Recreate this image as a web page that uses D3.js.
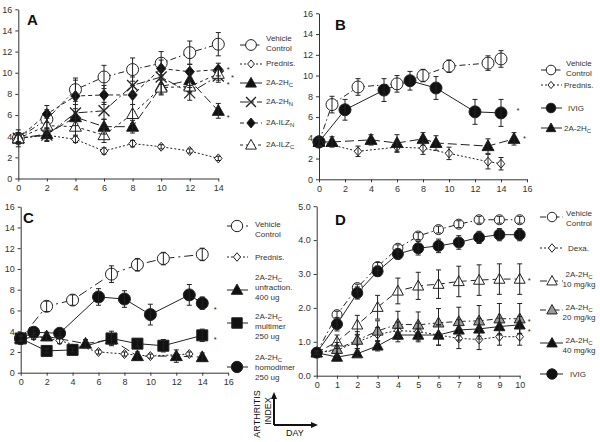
<!DOCTYPE html>
<html><head><meta charset="utf-8">
<script src="https://cdn.jsdelivr.net/npm/d3@7"></script>
<style>
body{margin:0;background:#fff}
svg{display:block;font-family:"Liberation Sans",Arial,sans-serif}
</style>
</head><body><svg id="c" width="600" height="442"></svg>
<script>
// ---------------- DATA ----------------
// Panel A
const daysA = [0,2,4,6,8,10,12,14];
const aVehicle = [3.8,5.6,8.4,9.6,10.3,10.9,11.9,12.7];
const aVehicleErr = [0.8,0.9,1.1,1.1,1.1,1.1,1.1,1.1];
const aPred = [3.8,4.1,3.7,2.6,3.3,3.0,2.6,1.9];
const aPredErr = [0.3,0.3,0.3,0.3,0.3,0.2,0.2,0.2];
const aHC = [3.8,4.2,5.8,4.9,4.9,8.7,9.3,6.4];
const aHCErr = [0.4,0.6,0.8,0.7,0.6,0.7,0.7,0.7];
const aHN = [3.8,4.1,6.2,6.4,8.8,9.6,8.1,9.7];
const aHNErr = [0.5,0.6,0.8,0.8,0.8,0.7,0.7,0.6];
const aILZN = [3.8,6.1,7.8,7.9,7.9,10.4,10.1,10.3];
const aILZNErr = [0.5,0.8,1.5,0.9,0.9,0.8,0.7,0.6];
const aILZC = [3.8,5.0,4.9,4.1,6.1,8.6,8.7,9.9];
const aILZCErr = [0.5,0.7,0.8,0.7,0.9,0.7,0.6,0.6];
const starsADays = [14.7,15.0,14.7,14.7];
const starsAVals = [10.46,9.75,9.05,6.0];

// Panel B
const bVehDays = [0,1,3,6,8,10,13,14];
const bVeh = [3.6,7.2,8.9,9.2,10.0,10.9,11.2,11.6];
const bVehErr = [0.4,0.8,0.8,0.8,0.6,0.6,0.7,0.8];
const bPredDays = [0,3,6,8,10,13,14];
const bPred = [3.6,2.7,3.1,3.0,2.5,1.7,1.5];
const bPredErr = [0.4,0.5,0.5,0.6,0.6,0.7,0.6];
const bIvigDays = [0,2,5,7,9,12,14];
const bIvig = [3.6,6.7,8.6,9.5,8.8,6.5,6.4];
const bIvigErr = [0.4,1.0,1.1,0.9,1.1,1.2,1.3];
const bHCDays = [0,1,4,6,8,9,13,15];
const bHC = [3.6,3.6,3.8,3.5,3.9,3.5,3.2,3.9];
const bHCErr = [0.3,0.5,0.5,0.8,0.6,0.7,0.7,0.6];
const starsBDays = [15.3,15.8];
const starsBVals = [6.87,4.17];

// Panel C
const cVehDays = [0,2,4,7,9,11,14];
const cVeh = [3.3,6.4,7.0,9.5,10.4,11.0,11.4];
const cVehErr = [0.3,0.5,0.5,0.8,0.6,0.6,0.6];
const cPredDays = [0,1,3,6,8,10,13];
const cPred = [3.3,3.5,3.1,2.0,1.8,1.6,1.8];
const cPredErr = [0.2,0.3,0.3,0.2,0.2,0.2,0.2];
const cUnfDays = [0,2,5,7,9,12,14];
const cUnf = [3.3,3.5,2.8,3.2,1.6,1.6,1.5];
const cUnfErr = [0.3,0.4,0.4,0.5,0.4,0.6,0.4];
const cMultDays = [0,2,4,7,9,11,14];
const cMult = [3.3,2.1,2.2,3.3,2.8,2.6,3.6];
const cMultErr = [0.3,0.2,0.2,0.7,0.3,0.6,0.6];
const cHomoDays = [0,1,3,6,8,10,13,14];
const cHomo = [3.3,3.9,3.8,7.3,7.1,5.6,7.5,6.7];
const cHomoErr = [0.3,0.3,0.3,0.8,0.8,1.0,1.0,0.6];
const starsCDays = [15,15];
const starsCVals = [6.33,3.35];

// Panel D
const daysD = [0,1,2,3,4,5,6,7,8,9,10];
const dVeh = [0.68,1.8,2.6,3.22,3.76,4.12,4.31,4.47,4.6,4.6,4.6];
const dVehErr = [0.05,0.1,0.1,0.12,0.1,0.1,0.1,0.1,0.1,0.1,0.1];
const dDexa = [0.68,0.75,1.0,1.22,1.33,1.3,1.2,1.1,1.07,1.15,1.15];
const dDexaErr = [0.05,0.15,0.2,0.2,0.25,0.25,0.3,0.3,0.3,0.25,0.25];
const d10 = [0.68,1.0,1.5,2.02,2.5,2.65,2.7,2.78,2.82,2.85,2.85];
const d10Err = [0.05,0.2,0.28,0.35,0.38,0.4,0.42,0.45,0.45,0.45,0.45];
const d20 = [0.68,0.78,1.05,1.32,1.52,1.5,1.56,1.6,1.62,1.68,1.68];
const d20Err = [0.05,0.2,0.25,0.3,0.38,0.38,0.42,0.42,0.45,0.45,0.45];
const d40 = [0.68,0.55,0.65,0.88,1.2,1.2,1.2,1.35,1.38,1.45,1.5];
const d40Err = [0.05,0.05,0.08,0.15,0.2,0.2,0.3,0.3,0.3,0.25,0.25];
const dIvig = [0.68,1.52,2.44,3.08,3.59,3.76,3.83,3.93,4.08,4.16,4.16];
const dIvigErr = [0.05,0.2,0.18,0.15,0.15,0.2,0.2,0.2,0.18,0.18,0.18];
const starsDDays = [10.47,10.47,10.47];
const starsDVals = [2.87,1.66,1.35];

// tick labels
const ticks0to16 = [0,2,4,6,8,10,12,14,16];
const ticks0to14 = [0,2,4,6,8,10,12,14];
const ticks0to10 = [0,1,2,3,4,5,6,7,8,9,10];
const ticks0to5 = [0,1,2,3,4,5];

// ---------------- DRAWING ----------------
const svg = d3.select('#c');
const INK = '#222';

function markerPath(m, k) {
  const s = m.size * (k || 1);
  switch (m.type) {
    case 'circle': return d3.symbol(d3.symbolCircle, Math.PI * (s/2) * (s/2))();
    case 'triangle': { const w = s/2, h = s*0.9; return `M0,${-h*0.58}L${w},${h*0.42}L${-w},${h*0.42}Z`; }
    case 'diamond': { const w = s*0.42, h = s/2; return `M0,${-h}L${w},0L0,${h}L${-w},0Z`; }
    case 'square': { const h = s/2; return `M${-h},${-h}H${h}V${h}H${-h}Z`; }
    case 'x': { const h = s/2; return `M${-h},${-h}L${h},${h}M${-h},${h}L${h},${-h}`; }
  }
}
function drawMarker(g, m, px, py, k) {
  g.append('path').attr('d', markerPath(m, k)).attr('transform', `translate(${px},${py})`)
    .attr('fill', m.type === 'x' ? 'none' : m.fill)
    .attr('stroke', INK).attr('stroke-width', m.type === 'x' ? 1.3 : 1);
}
function addLabel(t, str) {
  const parts = str.split('_');
  t.append('tspan').text(parts[0]);
  if (parts.length > 1) {
    t.append('tspan').attr('font-size', '6px').attr('dy', 2).text(parts[1]);
  }
}

function drawPanel(p) {
  const x = d3.scaleLinear().domain(p.xDomain).range(p.xRange);
  const y = d3.scaleLinear().domain(p.yDomain).range(p.yRange);
  const g = svg.append('g');

  const ax = g.append('g').attr('transform', `translate(0,${p.yRange[0]})`)
    .call(d3.axisBottom(x).tickValues(p.xTicks).tickSize(3).tickSizeOuter(0).tickPadding(3));
  const ay = g.append('g').attr('transform', `translate(${p.xRange[0]},0)`)
    .call(d3.axisLeft(y).tickValues(p.yTicks).tickSize(3).tickSizeOuter(0).tickPadding(3));
  [ax, ay].forEach(a => {
    a.selectAll('path,line').attr('stroke', '#333');
    a.selectAll('text').attr('font-size', '9px').attr('fill', '#333').attr('font-family', '"Liberation Sans",Arial,sans-serif');
  });

  const line = d3.line().x(d => x(d[0])).y(d => y(d[1]));
  p.series.forEach(s => {
    const pts = s.days.map((d, i) => [d, s.vals[i]]);
    g.append('path').datum(pts).attr('d', line).attr('fill', 'none')
      .attr('stroke', INK).attr('stroke-width', 1).attr('stroke-dasharray', s.dash || null);
  });
  p.series.forEach(s => {
    s.days.forEach((d, i) => drawMarker(g, s.marker, x(d), y(s.vals[i])));
  });
  p.series.forEach(s => {
    s.days.forEach((d, i) => {
      const e = s.errs[i], v = s.vals[i], cx = x(d);
      const y1 = y(v + e), y2 = y(v - e);
      g.append('path').attr('d', `M${cx},${y1}V${y2}M${cx-2.5},${y1}H${cx+2.5}M${cx-2.5},${y2}H${cx+2.5}`)
        .attr('stroke', INK).attr('stroke-width', 1).attr('fill', 'none');
    });
  });
  p.stars.days.forEach((d, i) => {
    g.append('text').attr('x', x(d)).attr('y', y(p.stars.vals[i]) + 4.5)
      .attr('font-size', '7.5px').attr('fill', INK).attr('text-anchor', 'middle').text('*');
  });

  g.append('text').attr('x', p.letter[1]).attr('y', p.letter[2]).attr('font-size', '15px')
    .attr('font-weight', 'bold').attr('fill', '#111').text(p.letter[0]);

  const L = p.legend;
  L.items.forEach(it => {
    const s = p.series[it.s];
    g.append('line').attr('x1', L.x0).attr('x2', L.x1).attr('y1', it.y).attr('y2', it.y)
      .attr('stroke', INK).attr('stroke-width', 1).attr('stroke-dasharray', s.dash || null);
    drawMarker(g, s.marker, L.mx, it.y, L.k);
    const n = it.lines.length;
    it.lines.forEach((ln, j) => {
      const anchor = (n > 1 && L.center) ? 'middle' : 'start';
      const tx = (n > 1 && L.center) ? L.center : (it.tx || L.tx);
      const t = g.append('text').attr('x', tx).attr('y', it.ty + 3 + (j - (n - 1) / 2) * L.lh)
        .attr('font-size', '8px').attr('fill', '#333').attr('text-anchor', anchor);
      addLabel(t, ln);
    });
  });
}

const open = (type, size) => ({ type, size, fill: '#fff' });
const fill = (type, size) => ({ type, size, fill: '#111' });

// Panel A
drawPanel({
  xDomain: [0, 14], xRange: [18.3, 218.3], yDomain: [0, 16], yRange: [178.5, 9.3],
  xTicks: ticks0to14, yTicks: ticks0to16, letter: ['A', 27, 25],
  series: [
    { days: daysA, vals: aVehicle, errs: aVehicleErr, marker: open('circle', 12), dash: '6,3,1.5,3' },
    { days: daysA, vals: aPred, errs: aPredErr, marker: open('diamond', 9), dash: '2,2' },
    { days: daysA, vals: aHC, errs: aHCErr, marker: fill('triangle', 12), dash: '9,4' },
    { days: daysA, vals: aHN, errs: aHNErr, marker: fill('x', 11), dash: '9,3,2,3' },
    { days: daysA, vals: aILZN, errs: aILZNErr, marker: fill('diamond', 11), dash: '4,3' },
    { days: daysA, vals: aILZC, errs: aILZCErr, marker: open('triangle', 12), dash: '3,3' }
  ],
  stars: { days: starsADays, vals: starsAVals },
  legend: { x0: 240, x1: 262, mx: 251, tx: 266, lh: 10, k: 0.9, items: [
    { s: 0, y: 45, ty: 43, lines: ['Vehicle', 'Control'] },
    { s: 1, y: 64, ty: 63, lines: ['Prednis.'] },
    { s: 2, y: 83, ty: 82, lines: ['2A-2H_C'] },
    { s: 3, y: 102, ty: 101, lines: ['2A-2H_N'] },
    { s: 4, y: 123, ty: 122, lines: ['2A-ILZ_N'] },
    { s: 5, y: 145, ty: 144, lines: ['2A-ILZ_C'] }
  ]}
});

// Panel B
drawPanel({
  xDomain: [0, 16], xRange: [319, 527], yDomain: [0, 16], yRange: [179.3, 13.3],
  xTicks: ticks0to16, yTicks: ticks0to16, letter: ['B', 335, 30],
  series: [
    { days: bVehDays, vals: bVeh, errs: bVehErr, marker: open('circle', 12), dash: '6,3,1.5,3' },
    { days: bPredDays, vals: bPred, errs: bPredErr, marker: open('diamond', 9), dash: '2,2' },
    { days: bIvigDays, vals: bIvig, errs: bIvigErr, marker: fill('circle', 12), dash: null },
    { days: bHCDays, vals: bHC, errs: bHCErr, marker: fill('triangle', 12), dash: '9,4' }
  ],
  stars: { days: starsBDays, vals: starsBVals },
  legend: { x0: 541, x1: 562, mx: 551, tx: 566, lh: 10, k: 0.8, items: [
    { s: 0, y: 70, ty: 68, lines: ['Vehicle', 'Control'] },
    { s: 1, y: 85, ty: 85, lines: ['Prednis.'], tx: 564 },
    { s: 2, y: 108, ty: 108, lines: ['IVIG'], tx: 568 },
    { s: 3, y: 128, ty: 128, lines: ['2A-2H_C'], tx: 564 }
  ]}
});

// Panel C
drawPanel({
  xDomain: [0, 16], xRange: [20.7, 228.2], yDomain: [0, 16], yRange: [372.7, 206.7],
  xTicks: ticks0to16, yTicks: ticks0to16, letter: ['C', 23, 223],
  series: [
    { days: cVehDays, vals: cVeh, errs: cVehErr, marker: open('circle', 12), dash: '9,4,2,4' },
    { days: cPredDays, vals: cPred, errs: cPredErr, marker: open('diamond', 9), dash: '2,2' },
    { days: cUnfDays, vals: cUnf, errs: cUnfErr, marker: fill('triangle', 12), dash: '9,4' },
    { days: cMultDays, vals: cMult, errs: cMultErr, marker: fill('square', 11), dash: null },
    { days: cHomoDays, vals: cHomo, errs: cHomoErr, marker: fill('circle', 12), dash: null }
  ],
  stars: { days: starsCDays, vals: starsCVals },
  legend: { x0: 227, x1: 248, mx: 237, tx: 255, lh: 10.3, k: 0.95, items: [
    { s: 0, y: 226, ty: 229, lines: ['Vehicle', 'Control'] },
    { s: 1, y: 257, ty: 257, lines: ['Prednis.'] },
    { s: 2, y: 290, ty: 287, lines: ['2A-2H_C', 'unfraction.', '400 ug'] },
    { s: 3, y: 323, ty: 326, lines: ['2A-2H_C', 'multimer', '250 ug'] },
    { s: 4, y: 367, ty: 367, lines: ['2A-2H_C', 'homodimer', '250 ug'] }
  ]}
});

// Panel D
drawPanel({
  xDomain: [0, 10], xRange: [316.7, 519.7], yDomain: [0, 5], yRange: [375.7, 206.2],
  xTicks: ticks0to10, yTicks: ticks0to5, letter: ['D', 335, 225],
  series: [
    { days: daysD, vals: dVeh, errs: dVehErr, marker: open('circle', 10), dash: '6,3,1.5,3' },
    { days: daysD, vals: dDexa, errs: dDexaErr, marker: open('diamond', 9), dash: '2,2' },
    { days: daysD, vals: d10, errs: d10Err, marker: open('triangle', 11), dash: '7,4' },
    { days: daysD, vals: d20, errs: d20Err, marker: { type: 'triangle', size: 11, fill: '#9a9a9a' }, dash: '6,3,1.5,3' },
    { days: daysD, vals: d40, errs: d40Err, marker: fill('triangle', 11), dash: null },
    { days: daysD, vals: dIvig, errs: dIvigErr, marker: fill('circle', 11), dash: null }
  ],
  stars: { days: starsDDays, vals: starsDVals },
  legend: { x0: 540, x1: 563, mx: 552, tx: 568, lh: 10.5, k: 0.95, center: 579, items: [
    { s: 0, y: 217, ty: 218, lines: ['Vehicle', 'Control'] },
    { s: 1, y: 248, ty: 248, lines: ['Dexa.'] },
    { s: 2, y: 281, ty: 279, lines: ['2A-2H_C', '10 mg/kg'] },
    { s: 3, y: 310, ty: 312, lines: ['2A-2H_C', '20 mg/kg'] },
    { s: 4, y: 343, ty: 345, lines: ['2A-2H_C', '40 mg/kg'] },
    { s: 5, y: 374, ty: 374, lines: ['IVIG'], tx: 570 }
  ]}
});

// Key: arthritis index vs day
const key = svg.append('g');
key.append('path').attr('d', 'M274,425V398M274,425H312').attr('stroke', '#111').attr('stroke-width', 2).attr('fill', 'none');
key.append('path').attr('d', 'M274,392L271,399L277,399Z').attr('fill', '#111');
key.append('path').attr('d', 'M318,425L311,422L311,428Z').attr('fill', '#111');
key.append('text').attr('transform', 'translate(260,414) rotate(-90)').attr('text-anchor', 'middle')
  .attr('font-size', '9px').attr('fill', '#111').text('ARTHRITIS');
key.append('text').attr('transform', 'translate(271,411) rotate(-90)').attr('text-anchor', 'middle')
  .attr('font-size', '9px').attr('fill', '#111').text('INDEX');
key.append('text').attr('x', 286).attr('y', 436).attr('font-size', '9px').attr('fill', '#111').text('DAY');
</script>
</body></html>
